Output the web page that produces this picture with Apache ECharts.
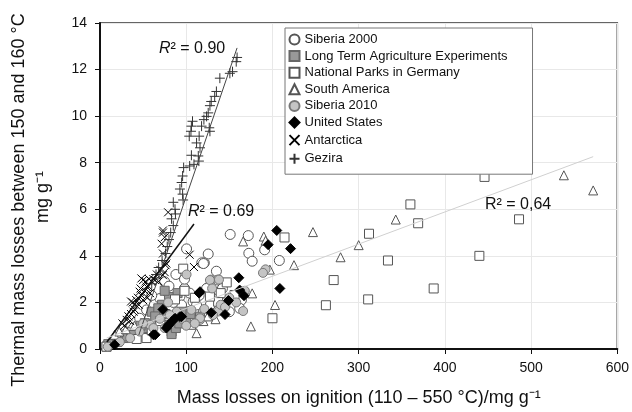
<!DOCTYPE html>
<html>
<head>
<meta charset="utf-8">
<script src="https://cdn.jsdelivr.net/npm/echarts@6/dist/echarts.min.js"></script>
<style>
  html, body { margin: 0; padding: 0; background: #fff; }
  #chart { width: 632px; height: 412px; }
</style>
</head>
<body>
<div id="chart"></div>
<script>
// series names (legend order)
var seriesNames = ['Siberia 2000', 'Long Term Agriculture Experiments', 'National Parks in Germany',
    'South America', 'Siberia 2010', 'United States', 'Antarctica', 'Gezira'];

// [mass loss on ignition, thermal mass loss 150-160 °C]
var siberia2000 = [[151,4.92],[172,4.87],[172.6,4.11],[191,4.26],[176.5,3.77],[208,3.8],[125.5,4.08],[121,3.7],
    [135,3.34],[125,2.63],[135,2.81],[136,2.43],[164,2.1],[162,1.75],[100.4,4.3],[118,3.7],[120,3.67],[75,2.89],
    [80,2.7],[92.7,2.25],[94.6,1.89],[108,2.03],[69.5,2.17],[54,1.68],[46,1.32],[39,0.9],[27,0.61],[16,0.3],
    [123.6,2.6],[137,2.96],[112,1.89],[120,1.6],[88,3.2],[98,2.6],[60,2.3],[85,2.0],[102,1.6],[130,2.2],[146,2.0],
    [150,1.6],[20,0.45],[33,0.7],[104,2.4],[115,2.3],[128,1.9],[98,3.0],[142,2.6],[155,2.2]];
var longTerm = [[7.7,0.1],[29,0.47],[60,1.6],[72,1.9],[85,2.17],[79,1.04],[83,0.75],[69,1.3],[54,0.9],[116,1.39],
    [114,1.2],[95,1.6],[42,0.71],[80,2.23],[67.6,1.75],[52,1.11],[83,0.64],[9.6,0.21],[31,0.54],[96.5,1.11],
    [75,2.5],[90,2.4],[64,1.4],[47,1.0],[36,0.6],[20,0.3],[100,1.3],[88,0.9],[76,1.5],[105,1.5],[92,1.1]];
var nationalParks = [[446,7.39],[360,6.21],[369,5.4],[312,4.95],[486,5.57],[334,3.8],[440,4.0],[271,2.96],[387,2.6],
    [311,2.13],[262,1.88],[214,4.79],[200,1.32],[147,2.86],[156,2.32],[137,2.03],[127.5,2.25],[87,2.13],[96.5,3.45],
    [42.5,0.43],[54,0.47],[7.5,0.1],[98,2.5],[110,2.2],[70,1.2],[60,0.8],[140,2.4]];
var southAmerica = [[538,7.46],[572,6.81],[343,5.56],[300,4.46],[279,3.94],[247,5.02],[166,4.62],[190,4.83],[192,4.65],
    [225,3.6],[197,3.41],[176.5,2.39],[203,1.89],[175,0.97],[134,1.28],[112,0.68],[17,0.61],[22.4,0.75],
    [106,1.04],[120,1.2],[30,0.85],[40,1.0],[125,1.4]];
var siberia2010 = [[192,3.42],[189,3.27],[128.6,2.98],[138,2.98],[166,1.63],[137,1.61],[121,1.72],[116,1.25],[100.4,3.2],
    [127.5,2.96],[106,1.68],[89,1.6],[81,1.46],[69.5,1.3],[58,1.04],[46,0.75],[35,0.47],[23,0.3],[9,0.1],[116,1.32],
    [131,1.46],[79,2.0],[95,1.3],[62,0.9],[50,1.1],[140,1.9],[100,1.0],[75,0.9],[130,2.6],[150,2.2],[158,2.0],
    [168,2.5],[145,1.8],[110,1.1]];
var unitedStates = [[205,5.09],[195,4.48],[221,4.31],[161,3.06],[208.6,2.6],[115,2.4],[162,2.53],[167,2.29],[149,2.08],
    [129,1.56],[145,1.48],[116,2.46],[73,1.7],[87,1.32],[94.6,1.39],[77,0.9],[80,1.05],[62,0.61],[17,0.18],[64,0.61],
    [79,1.0],[92.7,1.39],[84,1.2]];
var antarctica = [[79,5.87],[73,5.09],[75,4.8],[71.5,4.52],[73,4.1],[104,4.05],[109,3.52],[77,3.67],[73,3.17],[64,2.96],
    [50,2.96],[54,2.68],[46,2.46],[31,1.25],[36,1.5],[42,1.87],[38,2.0],[40,1.7],[44,2.2],[48,2.3],[52,2.5],[56,2.7],
    [58,2.4],[60,2.9],[35,1.2],[33,1.4],[45,1.9],[50,2.1],[55,2.2],[62,3.0],[66,3.2],[70,3.4],[76,3.6],[68,2.9],
    [42,2.1],[47,2.6],[53,2.9],[28,1.0],[26,1.1],[57,3.0],[39,1.6],[75,3.3],[48,3.03],[36,2.04],[73,5.0]];
var gezira = [[159,12.52],[158,12.34],[153.7,11.91],[150.6,11.84],[139,11.63],[135,11.06],[133,10.85],[129,10.63],
    [127.5,10.45],[125.5,10.14],[123.6,9.99],[126.7,9.5],[127.5,9.35],[120.5,9.85],[117.8,9.57],[107.3,9.78],[106,9.57],
    [105.5,9.35],[103.5,9.14],[115,9.14],[112,8.85],[116,8.64],[114,8.29],[114.7,8.07],[106,8.32],[109,7.93],[104,7.86],
    [97,7.79],[95.8,7.43],[94.7,7.15],[92.7,6.87],[95.8,6.65],[96.4,6.4],[85,6.3],[87,6.0],[83,5.59],[85,5.3],[82,5.0],
    [87.5,5.8],[80,4.7],[78,4.4],[76,4.1],[72,3.8],[68,3.5],[65,3.2],[60,2.8]];

// regression lines (end points)
var fitGezira = [[45,0.6],[159,12.93]];
var fitAntarctica = [[8,0.3],[109,5.37]];
var fitAll = [[7.7,0.47],[572,8.26]];

var font = 'Liberation Sans, Arial, Helvetica, sans-serif';
var crossPath = 'path://M0,0L10,10M10,0L0,10';
var plusPath = 'path://M5,0L5,10M0,5L10,5';

function scatter(name, data, symbol, size, fill, stroke, z) {
    return {
        name: name,
        type: 'scatter',
        data: data,
        symbol: symbol,
        symbolSize: size,
        z: z || 2,
        itemStyle: { color: fill, borderColor: stroke, borderWidth: 1, opacity: 1 }
    };
}

function fitLine(data, color, width) {
    return {
        type: 'line',
        data: data,
        symbol: 'none',
        silent: true,
        z: 5,
        lineStyle: { color: color, width: width }
    };
}

var myChart = echarts.init(document.getElementById('chart'));

var option = {
    animation: false,
    textStyle: { fontFamily: font },
    grid: { left: 100, right: 14, top: 23, bottom: 61, show: true, borderColor: '#333', borderWidth: 1.5 },
    legend: {
        orient: 'vertical',
        left: 285,
        top: 28,
        data: seriesNames,
        itemWidth: 10,
        itemHeight: 10,
        itemGap: 3.6,
        padding: [5, 25, 8, 2],
        backgroundColor: '#fff',
        borderColor: '#777',
        borderWidth: 1,
        textStyle: { fontSize: 13, lineHeight: 13, color: '#111', fontFamily: font }
    },
    xAxis: {
        type: 'value',
        min: 0,
        max: 600,
        interval: 100,
        name: 'Mass losses on ignition (110 – 550 °C)/mg g⁻¹',
        nameLocation: 'middle',
        nameGap: 40,
        nameTextStyle: { fontSize: 18, color: '#111' },
        axisLine: { lineStyle: { color: '#111', width: 2 } },
        axisTick: { show: true, inside: false, length: 5, lineStyle: { color: '#111' } },
        axisLabel: { fontSize: 14, color: '#111', margin: 12 },
        splitLine: { lineStyle: { color: '#e8e8e8' } }
    },
    yAxis: {
        type: 'value',
        min: 0,
        max: 14,
        interval: 2,
        axisLine: { show: true, lineStyle: { color: '#111', width: 2 } },
        axisTick: { show: true, inside: false, length: 5, lineStyle: { color: '#111' } },
        axisLabel: { fontSize: 14, color: '#111', margin: 13 },
        splitLine: { lineStyle: { color: '#e8e8e8' } }
    },
    graphic: [
        {
            type: 'text', x: 19, y: 200, rotation: Math.PI / 2,
            style: { text: 'Thermal mass losses between 150 and 160 °C', fontSize: 18, fontFamily: font,
                fill: '#111', textAlign: 'center', textVerticalAlign: 'middle' }
        },
        {
            type: 'text', x: 43, y: 197, rotation: Math.PI / 2,
            style: { text: 'mg g⁻¹', fontSize: 18, fontFamily: font,
                fill: '#111', textAlign: 'center', textVerticalAlign: 'middle' }
        },
        {
            type: 'text', x: 159, y: 49, z: 10,
            style: { text: '{i|R}{n|² = 0.90}', fontSize: 16, fontFamily: font, fill: '#111',
                textVerticalAlign: 'middle',
                rich: { i: { fontStyle: 'italic', fontSize: 16, fontFamily: font }, n: { fontSize: 16, fontFamily: font } } }
        },
        {
            type: 'text', x: 188, y: 212, z: 10,
            style: { text: '{i|R}{n|² = 0.69}', fontSize: 16, fontFamily: font, fill: '#111',
                textVerticalAlign: 'middle',
                rich: { i: { fontStyle: 'italic', fontSize: 16, fontFamily: font }, n: { fontSize: 16, fontFamily: font } } }
        },
        {
            type: 'text', x: 485, y: 205, z: 10,
            style: { text: 'R² = 0,64', fontSize: 16, fontFamily: font, fill: '#111', textVerticalAlign: 'middle' }
        }
    ],
    series: [
        scatter(seriesNames[0], siberia2000, 'circle', 10, '#fff', '#555'),
        scatter(seriesNames[1], longTerm, 'rect', 9, '#999', '#666'),
        scatter(seriesNames[2], nationalParks, 'rect', 9, '#fff', '#555'),
        scatter(seriesNames[3], southAmerica, 'triangle', 9, '#fff', '#555'),
        scatter(seriesNames[4], siberia2010, 'circle', 9, '#c4c4c4', '#777'),
        scatter(seriesNames[5], unitedStates, 'diamond', 10, '#000', '#000', 3),
        scatter(seriesNames[6], antarctica, crossPath, 8, 'none', '#000', 4),
        scatter(seriesNames[7], gezira, plusPath, 10, 'none', '#333', 4),
        fitLine(fitGezira, '#444', 1),
        fitLine(fitAntarctica, '#111', 1.5),
        fitLine(fitAll, '#d0d0d0', 1)
    ]
};

myChart.setOption(option);
</script>
</body>
</html>
